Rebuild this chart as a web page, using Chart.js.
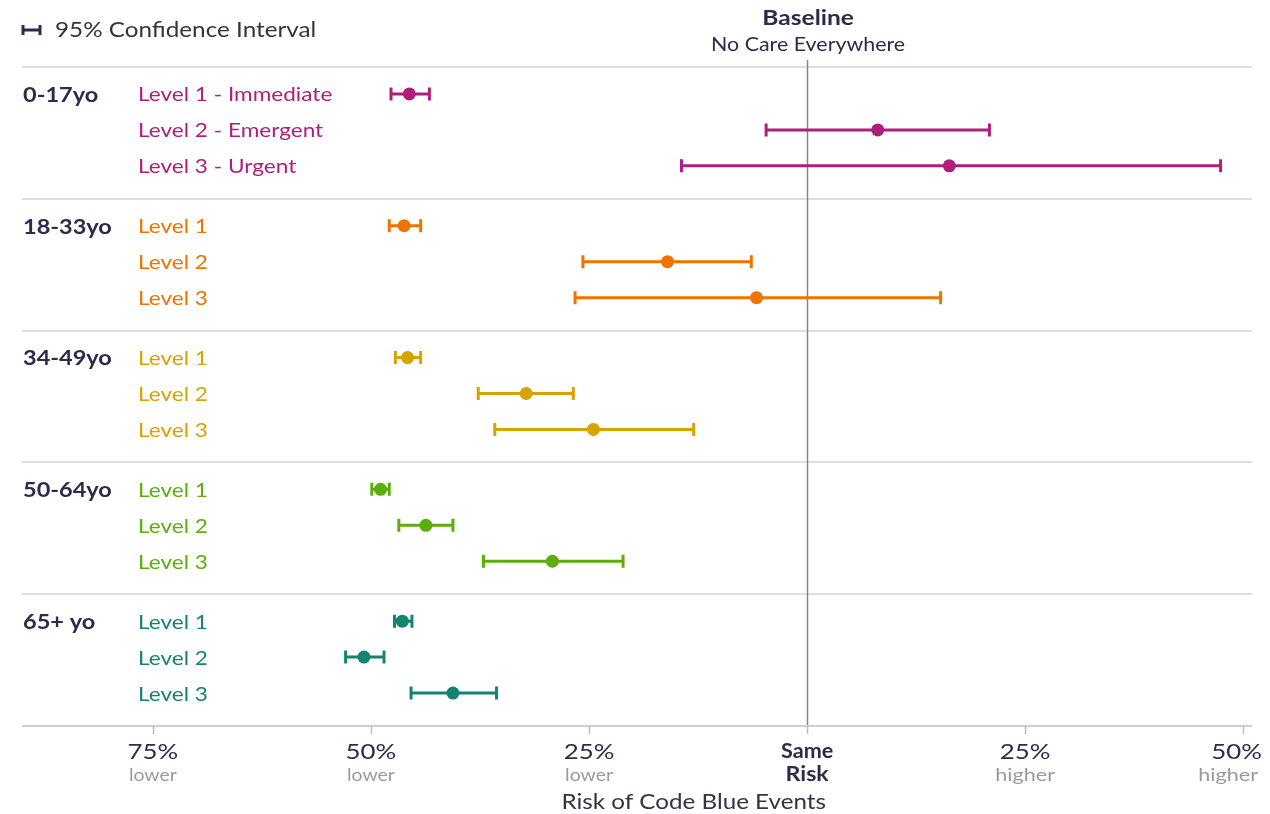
<!DOCTYPE html>
<html>
<head>
<meta charset="utf-8">
<script src="https://cdn.jsdelivr.net/npm/chart.js@4.4.1/dist/chart.umd.min.js"></script>
<style>
  html, body { margin: 0; padding: 0; background: #ffffff; overflow: hidden; }
  #wrap { width: 1270px; height: 814px; position: relative; }
</style>
</head>
<body>
<div id="wrap"><canvas id="chart" width="1270" height="814"></canvas></div>
<script>
// Age groups and acuity levels (rows of the forest plot)
const ageGroups = ['0-17yo', '18-33yo', '34-49yo', '50-64yo', '65+ yo'];
const levelNames = [
  ['Level 1 - Immediate', 'Level 2 - Emergent', 'Level 3 - Urgent'],
  ['Level 1', 'Level 2', 'Level 3'],
  ['Level 1', 'Level 2', 'Level 3'],
  ['Level 1', 'Level 2', 'Level 3'],
  ['Level 1', 'Level 2', 'Level 3']
];
const groupColors = ['#ae1f7b', '#ef7300', '#d6a300', '#5bae0c', '#148371'];

// Change in risk vs. baseline, in percent (negative = lower risk)
const riskChange = [
  [-45.6,   8.1,  16.3],
  [-46.2, -16.0,  -5.8],
  [-45.8, -32.2, -24.5],
  [-48.9, -43.7, -29.2],
  [-46.4, -50.8, -40.6]
];
// 95% confidence interval bounds, in percent
const ciLower = [
  [-47.7,  -4.7, -14.4],
  [-47.9, -25.7, -26.6],
  [-47.2, -37.7, -35.8],
  [-49.9, -46.8, -37.1],
  [-47.3, -52.9, -45.4]
];
const ciUpper = [
  [-43.3,  20.9,  47.4],
  [-44.3,  -6.4,  15.3],
  [-44.3, -26.8, -13.0],
  [-47.9, -40.6, -21.1],
  [-45.3, -48.5, -35.6]
];

// X axis ticks
const tickValues = [-75, -50, -25, 0, 25, 50];
const tickTop = ['75%', '50%', '25%', 'Same', '25%', '50%'];
const tickBottom = ['lower', 'lower', 'lower', 'Risk', 'higher', 'higher'];
const axisTitle = 'Risk of Code Blue Events';

// Row layout on the vertical value scale
const GROUP_SPAN = 11 / 3;
const FIRST_ROW = 0.75;
const rowPos = (g, r) => g * GROUP_SPAN + FIRST_ROW + r;

const FONT = 'Lato, "Open Sans", sans-serif';
const DARK = '#2c2c4a';

// Draws text with a horizontal widening factor; returns drawn width
function drawText(ctx, s, x, y, font, color, align, sx) {
  ctx.save();
  ctx.font = font;
  ctx.fillStyle = color;
  ctx.textBaseline = 'middle';
  ctx.textAlign = 'left';
  const w = ctx.measureText(s).width * sx;
  const left = align === 'left' ? x : align === 'center' ? x - w / 2 : x - w;
  ctx.translate(left, y);
  ctx.scale(sx, 1);
  ctx.fillText(s, 0, 0);
  ctx.restore();
  return w;
}
function textWidth(ctx, s, font, sx) {
  ctx.save();
  ctx.font = font;
  const w = ctx.measureText(s).width * sx;
  ctx.restore();
  return w;
}

const datasets = ageGroups.map((name, g) => ({
  label: name,
  data: riskChange[g].map((v, r) => ({ x: v, y: rowPos(g, r) })),
  backgroundColor: groupColors[g],
  borderColor: groupColors[g],
  pointRadius: 6.5,
  pointHoverRadius: 6.5,
  borderWidth: 0,
  showLine: false
}));

const decor = {
  id: 'forestDecor',
  beforeDatasetsDraw(chart) {
    const { ctx, chartArea: a, scales: { x, y } } = chart;
    ctx.save();
    // group separators
    ctx.strokeStyle = '#dedede';
    ctx.lineWidth = 2;
    for (let g = 0; g < ageGroups.length; g++) {
      const py = Math.round(y.getPixelForValue(g * GROUP_SPAN));
      ctx.beginPath();
      ctx.moveTo(a.left, py);
      ctx.lineTo(a.right, py);
      ctx.stroke();
    }
    // baseline (same risk)
    const bx = Math.round(x.getPixelForValue(0)) + 0.5;
    ctx.strokeStyle = '#83839a';
    ctx.lineWidth = 1.5;
    ctx.beginPath();
    ctx.moveTo(bx, a.top - 7);
    ctx.lineTo(bx, a.bottom);
    ctx.stroke();
    // confidence intervals
    ctx.lineWidth = 3;
    ctx.lineCap = 'butt';
    ageGroups.forEach((_, g) => {
      ctx.strokeStyle = groupColors[g];
      for (let r = 0; r < 3; r++) {
        const py = y.getPixelForValue(rowPos(g, r));
        const x0 = x.getPixelForValue(ciLower[g][r]);
        const x1 = x.getPixelForValue(ciUpper[g][r]);
        ctx.beginPath();
        ctx.moveTo(x0, py); ctx.lineTo(x1, py);
        ctx.moveTo(x0, py - 6.5); ctx.lineTo(x0, py + 6.5);
        ctx.moveTo(x1, py - 6.5); ctx.lineTo(x1, py + 6.5);
        ctx.stroke();
      }
    });
    ctx.restore();
  },
  afterDraw(chart) {
    const { ctx, chartArea: a, scales: { x, y } } = chart;
    ctx.save();
    // row labels
    ageGroups.forEach((name, g) => {
      drawText(ctx, name, a.left + 1, y.getPixelForValue(rowPos(g, 0)) + 1,
        `bold 21px ${FONT}`, DARK, 'left', 1.12);
      levelNames[g].forEach((lv, r) => {
        drawText(ctx, lv, a.left + 116, y.getPixelForValue(rowPos(g, r)) + 1,
          `20px ${FONT}`, groupColors[g], 'left', 1.13);
      });
    });
    // axis line and ticks
    ctx.strokeStyle = '#cfcfcf';
    ctx.lineWidth = 2;
    ctx.beginPath();
    ctx.moveTo(a.left, a.bottom); ctx.lineTo(a.right, a.bottom);
    ctx.stroke();
    ctx.strokeStyle = '#bdbdbd';
    ctx.lineWidth = 1.5;
    tickValues.forEach((v) => {
      const px = Math.round(x.getPixelForValue(v)) + 0.5;
      ctx.beginPath();
      ctx.moveTo(px, a.bottom); ctx.lineTo(px, a.bottom + 8);
      ctx.stroke();
    });
    tickValues.forEach((v, i) => {
      const px = x.getPixelForValue(v);
      const same = v === 0;
      const f1 = same ? `bold 20px ${FONT}` : `21px ${FONT}`;
      const s1 = same ? 1.08 : 1.23;
      let w = textWidth(ctx, tickTop[i], f1, s1);
      drawText(ctx, tickTop[i], Math.min(px, chart.width - 8 - w / 2), a.bottom + 26, f1, DARK, 'center', s1);
      const f2 = same ? `bold 20px ${FONT}` : `18px ${FONT}`;
      const s2 = same ? 1.16 : (v > 0 ? 1.2 : 1.08);
      w = textWidth(ctx, tickBottom[i], f2, s2);
      drawText(ctx, tickBottom[i], Math.min(px, chart.width - 12 - w / 2), a.bottom + 49, f2,
        same ? DARK : '#9a9a9a', 'center', s2);
    });
    drawText(ctx, axisTitle, x.getPixelForValue(-13), a.bottom + 76, `22px ${FONT}`, '#333348', 'center', 1.1);
    // baseline caption
    const bx = x.getPixelForValue(0) + 1;
    drawText(ctx, 'Baseline', bx, 18, `bold 21px ${FONT}`, DARK, 'center', 1.17);
    drawText(ctx, 'No Care Everywhere', bx, 45, `20px ${FONT}`, DARK, 'center', 1.07);
    // legend
    ctx.strokeStyle = DARK;
    ctx.lineWidth = 3;
    ctx.beginPath();
    ctx.moveTo(a.left, 30); ctx.lineTo(a.left + 19, 30);
    ctx.moveTo(a.left + 1, 25); ctx.lineTo(a.left + 1, 35);
    ctx.moveTo(a.left + 18, 25); ctx.lineTo(a.left + 18, 35);
    ctx.stroke();
    drawText(ctx, '95% Confidence Interval', a.left + 33, 30, `21px ${FONT}`, '#333344', 'left', 1.155);
    ctx.restore();
  }
};

new Chart(document.getElementById('chart'), {
  type: 'scatter',
  data: { datasets },
  options: {
    responsive: false,
    animation: false,
    devicePixelRatio: 1,
    layout: { padding: { left: 22, right: 18, top: 67, bottom: 88 } },
    plugins: { legend: { display: false }, tooltip: { enabled: false } },
    scales: {
      x: { type: 'linear', min: -90, max: 51, display: false },
      y: { type: 'linear', min: 0, max: GROUP_SPAN * ageGroups.length, reverse: true, display: false }
    }
  },
  plugins: [decor]
});
</script>
</body>
</html>
